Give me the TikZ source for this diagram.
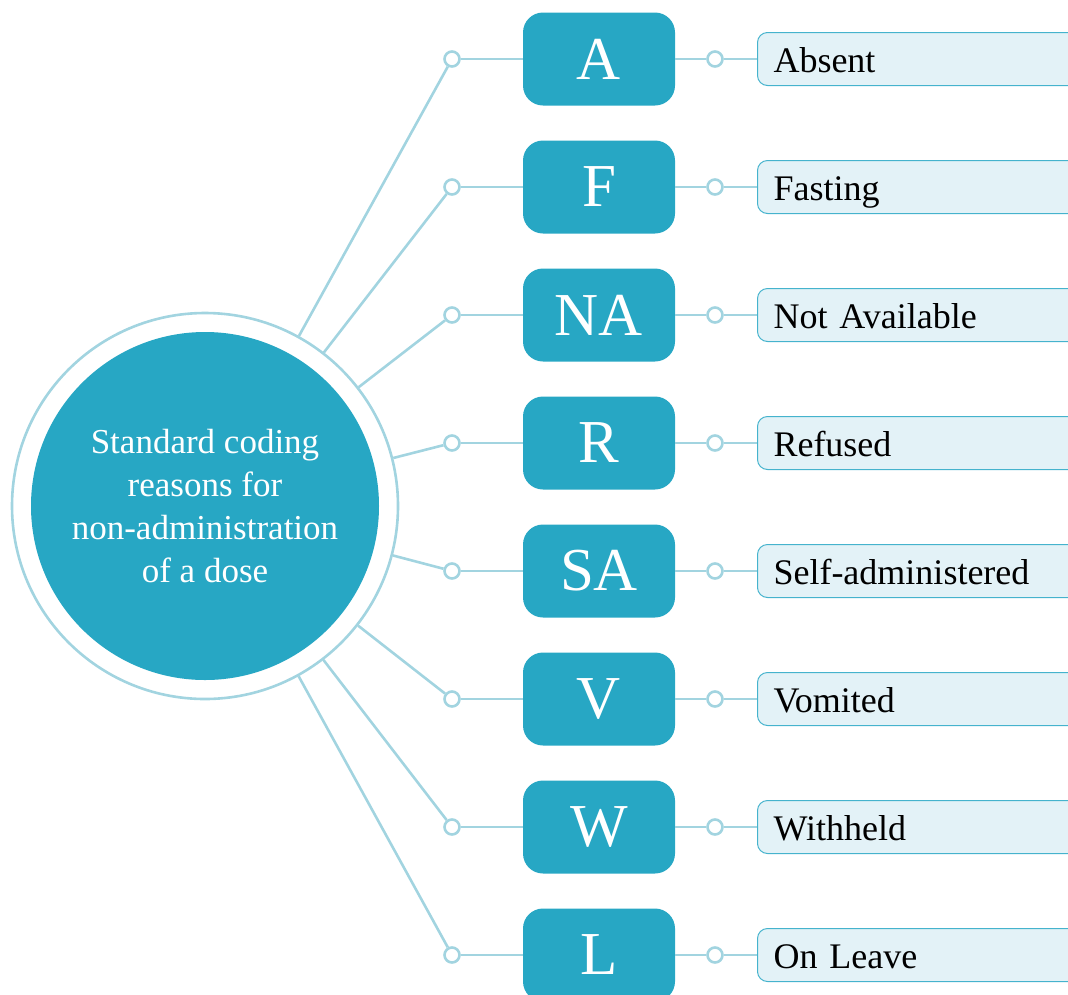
\documentclass[tikz,border=0pt]{standalone}
\usepackage{fontspec}
\setmainfont{Liberation Serif}
\definecolor{teal}{HTML}{27A7C4}
\definecolor{pale}{HTML}{A2D4E0}
\definecolor{lblfill}{HTML}{E3F2F7}
\definecolor{lbldraw}{HTML}{45B3CD}
\begin{document}
\begin{tikzpicture}[x=1pt,y=-1pt,
  conn/.style={draw=pale,line width=2.6pt},
  ringnode/.style={circle,draw=pale,line width=2.6pt,minimum size=386pt,inner sep=0pt,fill=white},
  corenode/.style={circle,fill=teal,minimum size=348pt,inner sep=0pt,text=white,align=center,
     font=\fontsize{35}{43}\selectfont},
  codebox/.style={rectangle,rounded corners=20pt,fill=teal,minimum width=152pt,minimum height=93pt,
     inner sep=0pt,text=white,font=\fontsize{61}{61}\selectfont},
  knob/.style={circle,draw=pale,line width=2.6pt,fill=white,minimum size=15pt,inner sep=0pt},
  lbl/.style={rectangle,rounded corners=10pt,fill=lblfill,draw=lbldraw,line width=1pt,
     minimum height=53pt,text width=292pt,inner xsep=16pt,align=left,anchor=west,
     text height=27pt,text depth=0pt,
     font=\fontsize{36}{36}\selectfont}]
\useasboundingbox (0,0) rectangle (1068,994);
\node[ringnode] (ring) at (205,506) {};
\node[corenode] (core) at (205,506) {Standard coding\\reasons for\\non-administration\\of a dose};
\foreach \i/\code/\txt in {1/A/Absent,2/F/Fasting,3/NA/Not Available,4/R/Refused,5/SA/Self-administered,6/V/Vomited,7/W/Withheld,8/L/On Leave}{
  \pgfmathsetmacro{\yy}{59+(\i-1)*128}
  \node[codebox] (b\i) at (599,\yy) {\code};
  \node[knob] (l\i) at (452,\yy) {};
  \node[knob] (r\i) at (715,\yy) {};
  \node[lbl] (t\i) at (757,\yy) {\txt};
  \draw[conn] (l\i) -- (b\i.west);
  \draw[conn] (b\i.east) -- (r\i);
  \draw[conn] (r\i) -- (t\i.west);
  \draw[conn] (l\i) -- (ring);
}
\end{tikzpicture}
\end{document}
